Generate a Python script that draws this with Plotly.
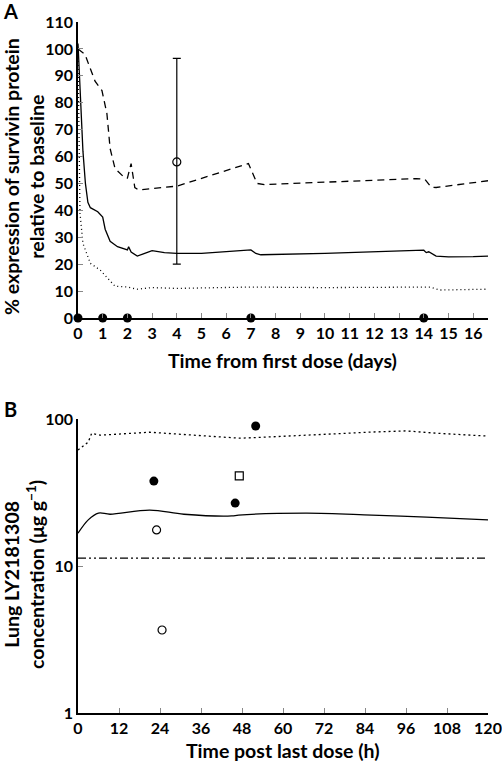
import plotly.graph_objects as go

# ---------------- Panel A data ----------------
a_solid_x = [0, 0.1, 0.2, 0.3, 0.4, 0.5, 0.8, 1.0, 1.1, 1.3, 1.6, 2.0, 2.05, 2.15, 2.4, 2.7, 3.0, 3.5, 4, 5, 6, 7, 7.2, 7.4, 10, 14, 14.1, 14.2, 14.5, 15, 16, 16.6]
a_solid_y = [102, 80, 62, 50, 43, 41, 39.5, 37.5, 33, 28.5, 26.5, 25.3, 26.5, 24.5, 23, 24, 25, 24.3, 24, 24, 24.7, 25.3, 24, 23.5, 24, 25.2, 24.3, 24.6, 23, 22.7, 22.8, 23]

a_dash_x = [0, 0.28, 0.69, 0.97, 1.17, 1.3, 1.5, 1.9, 2.0, 2.15, 2.3, 2.45, 4, 6.9, 7.25, 7.55, 13.7, 14.05, 14.3, 14.5, 16.6]
a_dash_y = [100, 98, 88, 84.5, 76, 63, 55.5, 52, 52, 57.4, 48.5, 47.6, 49, 57.4, 50, 49.6, 51.8, 51.5, 48.6, 48.5, 51]

a_dot_x = [0, 0.08, 0.2, 0.5, 0.9, 1.3, 1.5, 2.0, 2.4, 3.0, 4, 7, 10, 14.25, 14.65, 16.6]
a_dot_y = [100, 39, 27.7, 20.3, 17.8, 14, 11.8, 11.5, 10.7, 11.3, 11, 11.5, 11.3, 11.5, 10.4, 10.7]

a_obs_x = [4]
a_obs_y = [58]
a_obs_err_plus = [38.5]
a_obs_err_minus = [38]

dose_days = [0, 1, 2, 7, 14]
dose_level = [0, 0, 0, 0, 0]

a_xticks = list(range(0, 17))
a_yticks = list(range(0, 111, 10))

# ---------------- Panel B data ----------------
b_upper_x = [0, 3, 4, 6.4, 21, 45.5, 47.4, 56, 72, 86, 96, 105, 120]
b_upper_y = [61.5, 69.7, 80, 77.6, 81.3, 74.3, 74, 75.5, 79, 81.5, 83, 80, 76.5]

b_mid_x = [0, 3, 6, 9.4, 21, 31, 45, 47, 67, 86, 102, 120]
b_mid_y = [16.7, 20.6, 22.9, 22.5, 24, 22.5, 21.9, 22.2, 22.9, 22.2, 21.5, 20.6]

b_thresh_x = [0, 120]
b_thresh_y = [11.3, 11.3]

b_filled_x = [22.2, 46, 52]
b_filled_y = [37.8, 26.8, 89.6]
b_open_x = [23, 24.6]
b_open_y = [17.6, 3.67]
b_square_x = [47.2]
b_square_y = [41]

b_xticks = list(range(0, 121, 12))
b_yticks = [1, 10, 100]

FONT = "Lato"
fig = go.Figure()

lw = 1.3
fig.add_trace(go.Scatter(x=a_dash_x, y=a_dash_y, mode="lines", line=dict(color="black", width=lw, dash="7px,5px"), xaxis="x", yaxis="y"))
fig.add_trace(go.Scatter(x=a_solid_x, y=a_solid_y, mode="lines", line=dict(color="black", width=lw), xaxis="x", yaxis="y"))
fig.add_trace(go.Scatter(x=a_dot_x, y=a_dot_y, mode="lines", line=dict(color="black", width=lw, dash="1px,3px"), xaxis="x", yaxis="y"))
fig.add_trace(go.Scatter(x=a_obs_x, y=a_obs_y, mode="markers",
                         marker=dict(symbol="circle-open", color="black", size=8, line=dict(width=1.2)),
                         error_y=dict(type="data", array=a_obs_err_plus, arrayminus=a_obs_err_minus, color="black", thickness=1.2, width=4),
                         xaxis="x", yaxis="y"))
fig.add_trace(go.Scatter(x=dose_days, y=dose_level, mode="markers", cliponaxis=False,
                         marker=dict(symbol="circle", color="black", size=9), xaxis="x", yaxis="y"))

fig.add_trace(go.Scatter(x=b_upper_x, y=b_upper_y, mode="lines", line=dict(color="black", width=lw, dash="2px,3px"), xaxis="x2", yaxis="y2"))
fig.add_trace(go.Scatter(x=b_mid_x, y=b_mid_y, mode="lines", line=dict(color="black", width=lw, shape="spline"), xaxis="x2", yaxis="y2"))
fig.add_trace(go.Scatter(x=b_thresh_x, y=b_thresh_y, mode="lines", line=dict(color="black", width=lw, dash="8px,3px,2px,3px,2px,3px"), xaxis="x2", yaxis="y2"))
fig.add_trace(go.Scatter(x=b_filled_x, y=b_filled_y, mode="markers", marker=dict(symbol="circle", color="black", size=9), xaxis="x2", yaxis="y2"))
fig.add_trace(go.Scatter(x=b_open_x, y=b_open_y, mode="markers", marker=dict(symbol="circle-open", color="black", size=8, line=dict(width=1.2)), xaxis="x2", yaxis="y2"))
fig.add_trace(go.Scatter(x=b_square_x, y=b_square_y, mode="markers", marker=dict(symbol="square-open", color="black", size=8, line=dict(width=1.2)), xaxis="x2", yaxis="y2"))

W, H = 502, 763
ml, mr, mt, mb = 78, 14, 22, 50
pw = W - ml - mr
ph = H - mt - mb
a_dom = [(713 - 318) / ph, 1.0]
b_dom = [0.0, (713 - 419) / ph]

tickfont = dict(family=FONT, size=16, color="black", weight="bold")
axis_common = dict(showline=True, linecolor="black", linewidth=1.5, ticks="inside", ticklen=5,
                   tickcolor="#888", tickwidth=1.3, showgrid=False, zeroline=False, tickfont=tickfont,
                   mirror=False, automargin=False)

fig.update_layout(
    width=W, height=H, showlegend=False,
    plot_bgcolor="white", paper_bgcolor="white",
    margin=dict(l=ml, r=mr, t=mt, b=mb, autoexpand=False),
    xaxis=dict(domain=[0, 1], anchor="y", range=[0, 16.6], tickvals=a_xticks, **axis_common),
    yaxis=dict(domain=a_dom, anchor="x", range=[0, 110], tickvals=a_yticks, **axis_common),
    xaxis2=dict(domain=[0, 1], anchor="y2", range=[0, 120], tickvals=b_xticks, **axis_common),
    yaxis2=dict(domain=b_dom, anchor="x2", type="log", range=[0, 2], tickvals=b_yticks, ticktext=["1", "10", "100"], **axis_common),
)

def px_x(px):
    return (px - ml) / pw

def px_y(py):
    return (713 - py) / ph

titlefont = dict(family=FONT, size=19.5, color="black", weight="bold")
fig.add_annotation(text="A", xref="paper", yref="paper", x=px_x(10), y=px_y(11), xanchor="center", yanchor="middle",
                   showarrow=False, font=dict(family=FONT, size=20, color="black", weight="bold"))
fig.add_annotation(text="B", xref="paper", yref="paper", x=px_x(10), y=px_y(409), xanchor="center", yanchor="middle",
                   showarrow=False, font=dict(family=FONT, size=20, color="black", weight="bold"))
fig.add_annotation(text="Time from first dose (days)", xref="paper", yref="paper", x=px_x(282), y=px_y(360),
                   xanchor="center", yanchor="middle", showarrow=False, font=titlefont)
fig.add_annotation(text="Time post last dose (h)", xref="paper", yref="paper", x=px_x(283), y=px_y(751),
                   xanchor="center", yanchor="middle", showarrow=False, font=titlefont)
fig.add_annotation(text="% expression of survivin protein<br>relative to baseline", xref="paper", yref="paper",
                   x=px_x(24), y=px_y(177), textangle=-90,
                   xanchor="center", yanchor="middle", showarrow=False, font=titlefont)
fig.add_annotation(text="Lung LY2181308<br>concentration (μg g<sup>−1</sup>)", xref="paper", yref="paper",
                   x=px_x(24), y=px_y(575), textangle=-90,
                   xanchor="center", yanchor="middle", showarrow=False, font=titlefont)

fig.write_html("out.html", config={"displayModeBar": False},
               post_script="document.body.style.margin='0';document.body.style.overflow='hidden';")
